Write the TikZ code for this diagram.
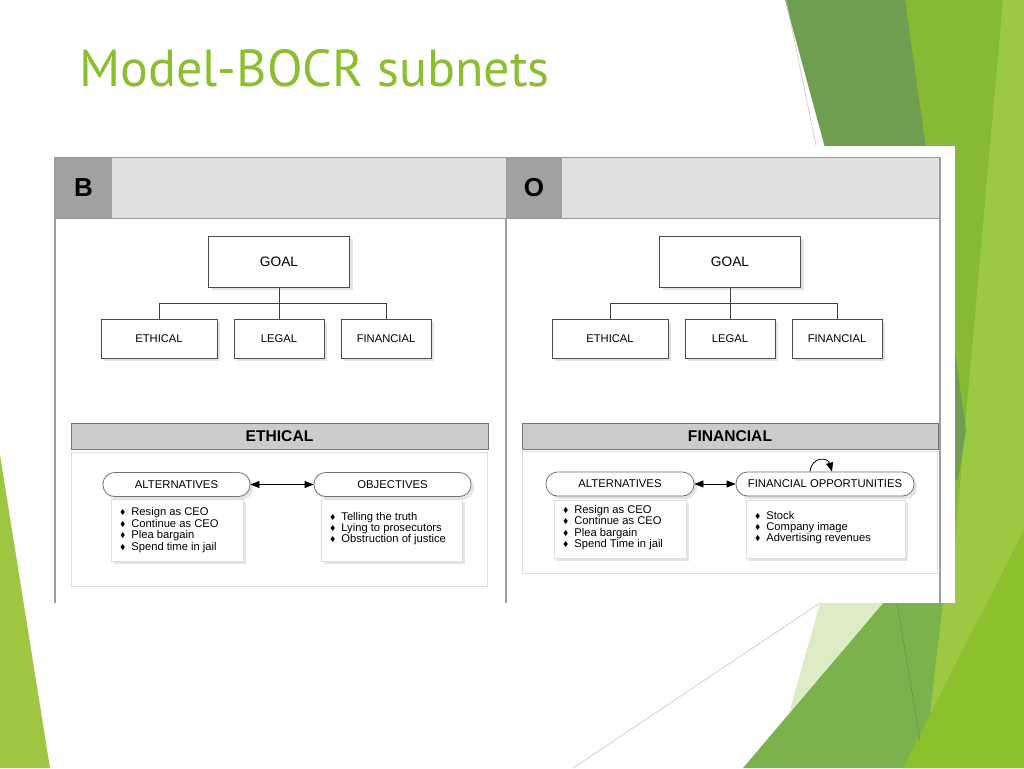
\documentclass[tikz,border=0pt]{standalone}
\usepackage{amssymb}
\usepackage{fontspec}
\setmainfont{Liberation Sans}
\newfontfamily\titlefont{PT Sans}
\usetikzlibrary{positioning}
\usetikzlibrary{arrows.meta}
\usetikzlibrary{shadows}
\definecolor{facettitle}{HTML}{8DBE2F}
\definecolor{facetmuted}{HTML}{6F9E50}
\definecolor{facetbright}{HTML}{88B934}
\definecolor{facetlight}{HTML}{9CC842}
\definecolor{facetlime}{HTML}{8DC02D}
\definecolor{facetmid}{HTML}{7AB24C}
\definecolor{facetpale}{HTML}{DDEBC6}
\definecolor{facetleft}{HTML}{9FC641}
\newcommand{\bul}{\raisebox{1pt}{\fontsize{7}{7}\selectfont$\blacklozenge$}\hspace{6pt}}
\tikzset{
every picture/.style={line width=0.8pt, >={Triangle[length=9pt,width=7pt]}},
%%%%%%%%%%  Node styles
soft/.style={drop shadow={shadow xshift=3pt, shadow yshift=-3pt,
             fill=black!30, opacity=0.35}},
goalbox/.style={draw=black!70, fill=white, minimum width=141pt,
                minimum height=51pt, font=\fontsize{13.7}{14}\selectfont, soft},
critbox/.style={draw=black!70, fill=white, minimum height=39pt,
                font=\fontsize{11.2}{12}\selectfont, soft},
letter/.style={font=\fontsize{26}{26}\selectfont\bfseries, inner sep=0pt},
subbar/.style={draw=black!55, fill=black!20, minimum height=26pt,
               font=\fontsize{15.6}{16}\selectfont\bfseries},
pill/.style={draw=black!55, fill=white, rounded corners=11.5pt,
             minimum height=24pt, inner sep=0pt,
             font=\fontsize{11.3}{12}\selectfont, soft},
bulletbox/.style={draw=black!13, fill=white, soft},
bullettext/.style={align=left, inner sep=0pt,
                   font=\fontsize{11.2}{11.4}\selectfont},
%%%% line styles
header/.style={draw=black!40, fill=black!12},
letterfill/.style={fill=black!37},
frame/.style={draw=black!38, line width=1.2pt},
subpanel/.style={draw=black!13},
tree/.style={draw=black!75},
thinline/.style={draw=black!22, line width=0.6pt}
}
\begin{document}
\begin{tikzpicture}[x=1pt,y=-1pt]
\fill[white] (0,0) rectangle (1024,768);
\useasboundingbox (0,0) rectangle (1024,768);
% background of the slide
\fill[facetbright] (880,0) -- (1024,0) -- (1024,768) -- (903,768) -- (930,715)
    -- (943,603) -- (900,400) -- cycle;
\fill[facetlight] (1003,0) -- (1024,0) -- (1024,530) -- (903,768) -- (930,715)
    -- (943,603) -- (955,540) -- cycle;
\fill[facetlime] (1024,530) -- (1024,768) -- (903,768) -- cycle;
\fill[facetmuted] (785,0) -- (905,0) -- (966,430) -- (958,480) -- (915,480) -- cycle;
\fill[facetmid] (743,768) -- (883,603) -- (943,603) -- (930,715) -- (903,768) -- cycle;
\fill[facetpale] (820,603) -- (883,603) -- (789,713) -- cycle;
\draw[facetmuted!90!black, line width=0.5pt] (897,603) -- (920,740);
\draw[thinline] (786,0) -- (817,150);
\draw[thinline] (820,603) -- (573,768);
\fill[facetleft] (0,455) -- (50,768) -- (0,768) -- cycle;
% title
\node[anchor=base west, inner sep=0pt, text=facettitle,
      font=\titlefont\fontsize{52}{52}\selectfont] (title) at (79,86) {Model-BOCR subnets};
% pasted figure
\fill[white] (55,146) rectangle (955,603);
\draw[header] (55,157) rectangle (506,218);
\draw[header] (506,157) rectangle (940,218);
\fill[letterfill] (55.5,157.5) rectangle (112,217.5);
\fill[letterfill] (506.5,157.5) rectangle (562,217.5);
\node[letter] (benefits) at (83.5,188) {B};
\node[letter] (opportunities) at (534,188) {O};
\draw[frame] (55,157) -- (55,603);
\draw[frame] (506,218) -- (506,603);
\draw[frame] (940,157) -- (940,603);

% B: hierarchy
\node[goalbox] (goalB) at (279,261.5) {GOAL};
\node[critbox, minimum width=116pt] (ethB) at (159,338.5) {ETHICAL};
\node[critbox, minimum width=90pt] (legB) at (279,338.5) {LEGAL};
\node[critbox, minimum width=90pt] (finB) at (386,338.5) {FINANCIAL};
\draw[tree] (goalB.south) -- (legB.north);
\draw[tree] (goalB.south) -- ++(0,16) -| (ethB.north);
\draw[tree] (goalB.south) -- ++(0,16) -| (finB.north);

% O: hierarchy
\node[goalbox] (goalO) at (730,261.5) {GOAL};
\node[critbox, minimum width=116pt] (ethO) at (610,338.5) {ETHICAL};
\node[critbox, minimum width=90pt] (legO) at (730,338.5) {LEGAL};
\node[critbox, minimum width=90pt] (finO) at (837,338.5) {FINANCIAL};
\draw[tree] (goalO.south) -- (legO.north);
\draw[tree] (goalO.south) -- ++(0,16) -| (ethO.north);
\draw[tree] (goalO.south) -- ++(0,16) -| (finO.north);

% B: ethical subnet
\node[subbar, minimum width=417pt] (ethbar) at (279.5,436) {ETHICAL};
\draw[subpanel] (71,452) rectangle (487,586);
\node[pill, minimum width=147pt] (altB) at (176.5,484.5) {ALTERNATIVES};
\node[pill, minimum width=157pt] (objB) at (392.5,484.5) {OBJECTIVES};
\draw[<->] (altB) -- (objB);
\node[bulletbox, minimum width=132pt, minimum height=62pt] (altlistB) at (177,530) {};
\node[bullettext, right=9pt of altlistB.west] (altitemsB)
  {\bul Resign as CEO\\ \bul Continue as CEO\\ \bul Plea bargain\\ \bul Spend time in jail};
\node[bulletbox, minimum width=141pt, minimum height=62pt] (objlistB) at (391.5,530) {};
\node[bullettext, right=9pt of objlistB.west, yshift=1.5pt] (objitemsB)
  {\bul Telling the truth\\ \bul Lying to prosecutors\\ \bul Obstruction of justice};

% O: financial subnet
\node[subbar, minimum width=416pt] (finbar) at (730,436) {FINANCIAL};
\draw[subpanel] (522,451) rectangle (937,573);
\node[pill, minimum width=148pt] (altO) at (620,484) {ALTERNATIVES};
\node[pill, minimum width=178pt] (oppO) at (825,484) {FINANCIAL OPPORTUNITIES};
\draw[<->] (altO) -- (oppO);
\draw[->] ([xshift=-15pt]oppO.north) .. controls +(2,-16) and +(-4,-14) .. ([xshift=7pt]oppO.north);
\node[bulletbox, minimum width=132pt, minimum height=58pt] (altlistO) at (620,529) {};
\node[bullettext, right=9pt of altlistO.west, yshift=1.5pt] (altitemsO)
  {\bul Resign as CEO\\ \bul Continue as CEO\\ \bul Plea bargain\\ \bul Spend Time in jail};
\node[bulletbox, minimum width=159pt, minimum height=58pt] (opplistO) at (825.5,529) {};
\node[bullettext, right=9pt of opplistO.west, yshift=1.5pt] (oppitemsO)
  {\bul Stock\\ \bul Company image\\ \bul Advertising revenues};
\end{tikzpicture}
\end{document}
